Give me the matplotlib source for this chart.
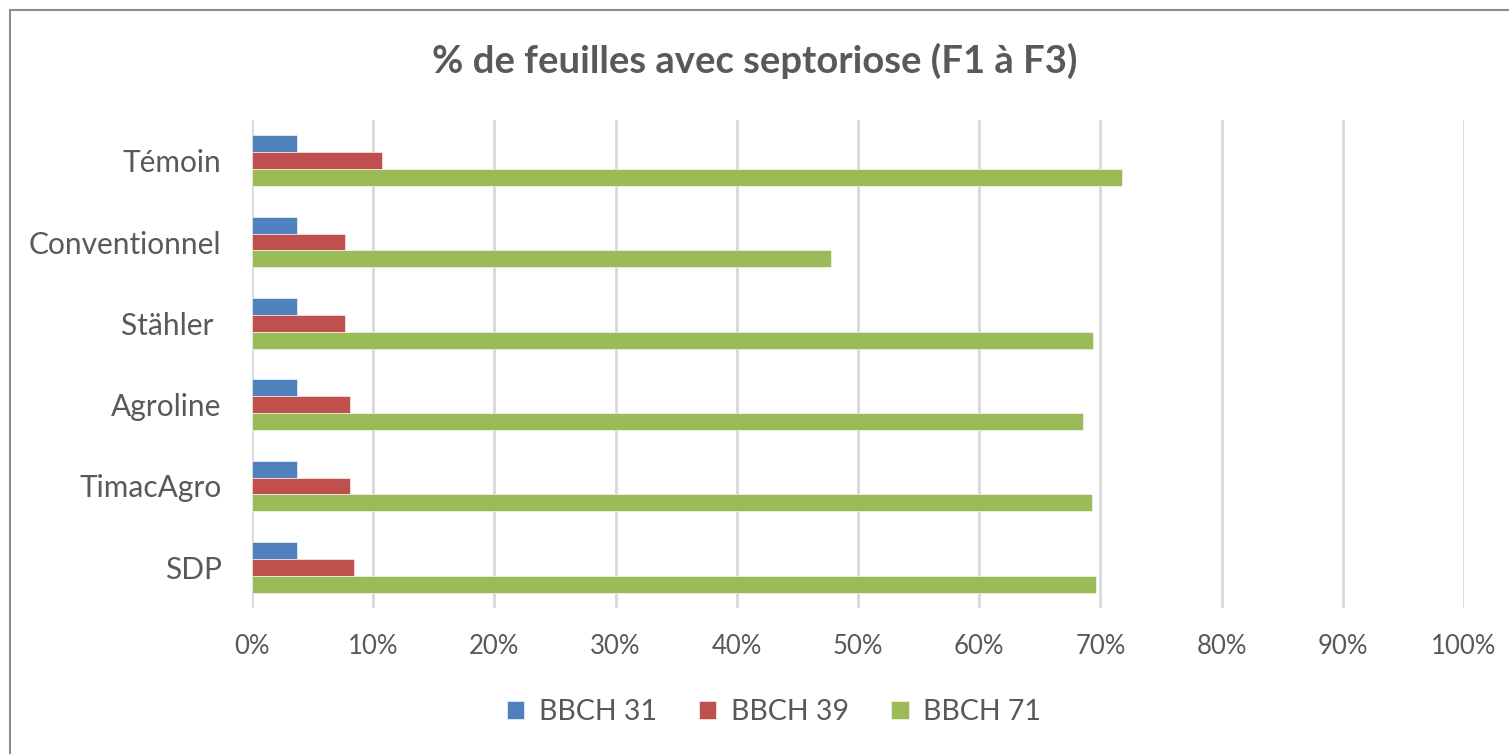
import matplotlib
matplotlib.use("Agg")
import matplotlib.pyplot as plt
from matplotlib.patches import Rectangle
from matplotlib.ticker import FuncFormatter
import numpy as np

categories = ["Témoin", "Conventionnel", "Stähler ", "Agroline", "TimacAgro", "SDP"]
series_names = ["BBCH 31", "BBCH 39", "BBCH 71"]
bbch31 = [3.7, 3.7, 3.7, 3.7, 3.7, 3.7]
bbch39 = [10.7, 7.7, 7.7, 8.1, 8.1, 8.4]
bbch71 = [71.8, 47.8, 69.4, 68.6, 69.3, 69.6]
xticks = [0, 10, 20, 30, 40, 50, 60, 70, 80, 90, 100]

colors = ["#4F81BD", "#C0504D", "#9BBB59"]
text_color = "#595959"

plt.rcParams["font.family"] = ["Lato", "DejaVu Sans"]

fig = plt.figure(figsize=(15.09, 7.54), dpi=100)
ax = fig.add_axes([252 / 1509, (754 - 608) / 754, (1464 - 252) / 1509, 488 / 754])

n = len(categories)
ypos = np.arange(n)[::-1]
h = 0.208
for i, (vals, name) in enumerate(zip([bbch31, bbch39, bbch71], series_names)):
    ax.barh(ypos + (1 - i) * h, vals, height=h, color=colors[i], label=name,
            edgecolor="white", linewidth=0.4, zorder=3)

ax.set_xlim(0, 100)
ax.set_ylim(-0.5, n - 0.5)
ax.set_xticks(xticks)
ax.xaxis.set_major_formatter(FuncFormatter(lambda v, p: f"{int(v)}%"))
ax.set_yticks(ypos)
ax.set_yticklabels(categories)
ax.tick_params(axis="both", length=0, colors=text_color)
ax.tick_params(axis="x", pad=19, labelsize=18.5)
ax.tick_params(axis="y", pad=22, labelsize=21.5)
ax.grid(axis="x", color="#D9D9D9", linewidth=2, zorder=0)
for s in ax.spines.values():
    s.set_visible(False)

fig.text(0.5, 1 - 61 / 754, "% de feuilles avec septoriose (F1 à F3)", ha="center", va="center",
         fontsize=27.5, fontweight="bold", color=text_color)

leg = fig.legend(loc="center", bbox_to_anchor=(774 / 1509, 1 - 712 / 754), ncol=3, frameon=False,
                 fontsize=20.5, handlelength=0.6, handleheight=0.6, columnspacing=1.5, handletextpad=0.5)
for t in leg.get_texts():
    t.set_color(text_color)

fig.patches.append(Rectangle((10 / 1509, -0.1), 1.2, 1 - 10 / 754 + 0.1, transform=fig.transFigure,
                             fill=False, edgecolor="#8C8C8C", linewidth=1.5))

fig.savefig("out.png", dpi=100, facecolor="white")
